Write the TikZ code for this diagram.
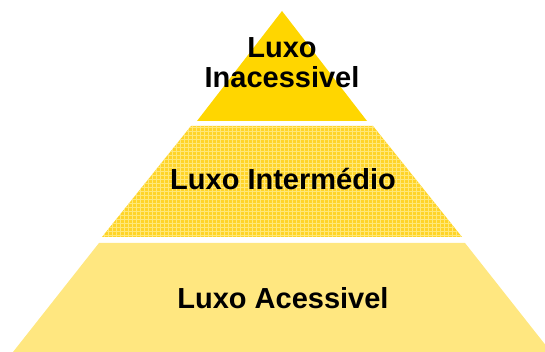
\documentclass[tikz,border=0pt]{standalone}
\usepackage{fontspec}
\setmainfont{Liberation Sans}
\definecolor{topgold}{RGB}{255,214,0}
\definecolor{midbase}{RGB}{255,212,40}
\definecolor{midline}{RGB}{255,232,120}
\definecolor{lowfill}{RGB}{255,231,128}
\begin{document}
\begin{tikzpicture}[x=1pt,y=-1pt,
  label/.style={font=\fontsize{29}{30}\selectfont\bfseries, text=black, anchor=base, align=center, inner sep=0pt}]
\useasboundingbox (0,0) rectangle (545,352);
\clip (0,0) rectangle (545,352);
% top tier
\fill[topgold] (282,11) -- (367,121) -- (197,121) -- cycle;
% middle tier
\fill[midbase] (191,126) -- (373,126) -- (462,237) -- (102,237) -- cycle;
\begin{scope}
  \clip (191,126) -- (373,126) -- (462,237) -- (102,237) -- cycle;
  \foreach \i in {0,...,95} {
    \draw[midline, line width=1pt] (100+4*\i,120) -- (100+4*\i,240);
  }
  \foreach \j in {0,...,30} {
    \draw[midline, line width=1pt] (95,124+4*\j) -- (470,124+4*\j);
  }
\end{scope}
% bottom tier
\fill[lowfill] (99,243) -- (465,243) -- (551,352) -- (13,352) -- cycle;
% labels
\node[label] (top1) at (282,58) {Luxo};
\node[label] (top2) at (282,88) {Inacessivel};
\node[label] (mid) at (283,190) {Luxo Intermédio};
\node[label] (low) at (283,308) {Luxo Acessivel};
\end{tikzpicture}
\end{document}
